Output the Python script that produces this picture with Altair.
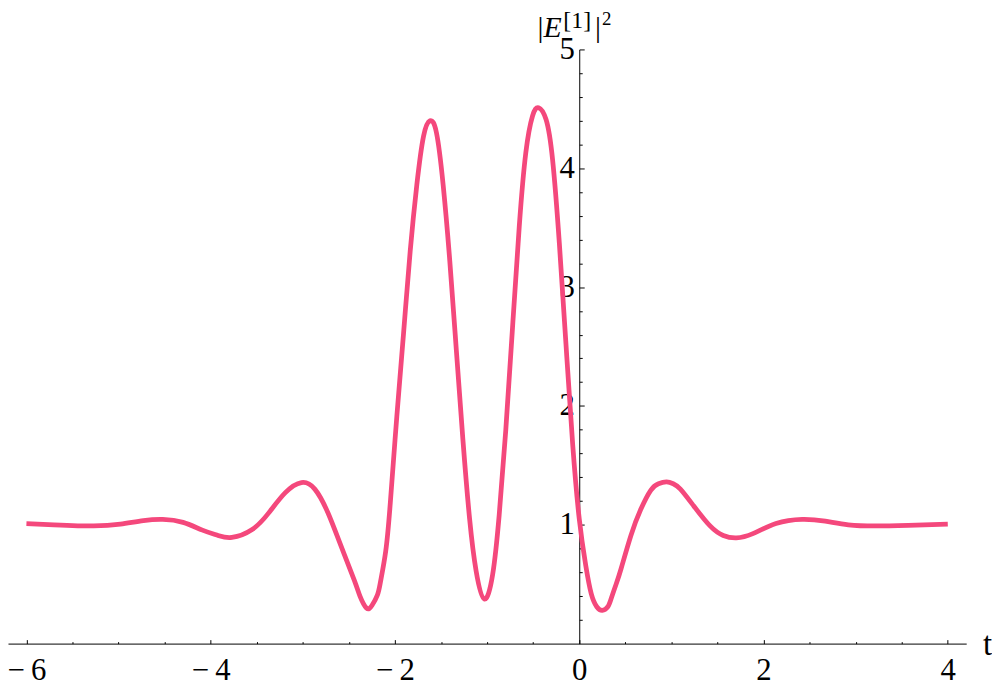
import altair as alt
import pandas as pd

# ---- data ----
T = [-6.0, -5.7, -5.27, -4.98, -4.73, -4.52, -4.30, -4.09, -3.92, -3.77,
     -3.55, -3.37, -3.19, -3.015, -2.87, -2.73, -2.59, -2.44, -2.38, -2.31,
     -2.25, -2.19, -2.157, -2.10, -2.05, -1.98, -1.907, -1.835, -1.763, -1.69,
     -1.62, -1.55, -1.477, -1.405, -1.334, -1.263, -1.19, -1.119, -1.03, -0.94,
     -0.869, -0.797, -0.724, -0.651, -0.58, -0.507, -0.441, -0.36, -0.289, -0.216,
     -0.144, -0.071, 0.0, 0.07, 0.13, 0.19, 0.25, 0.31, 0.347, 0.40,
     0.454, 0.561, 0.668, 0.776, 0.86, 0.948, 1.02, 1.098, 1.241, 1.42,
     1.563, 1.706, 1.885, 2.135, 2.42, 2.67, 2.92, 3.21, 3.57, 4.0]
E2 = [1.01, 1.0, 0.99, 1.005, 1.035, 1.045, 1.02, 0.955, 0.91, 0.893,
      0.96, 1.10, 1.27, 1.355, 1.30, 1.105, 0.83, 0.53, 0.40, 0.30,
      0.32, 0.41, 0.52, 0.78, 1.19, 1.91, 2.61, 3.30, 3.86, 4.27,
      4.40, 4.30, 3.86, 3.22, 2.47, 1.72, 1.05, 0.61, 0.375, 0.58,
      1.08, 1.80, 2.66, 3.51, 4.13, 4.44, 4.51, 4.41, 4.07, 3.37,
      2.52, 1.675, 1.05, 0.66, 0.42, 0.31, 0.28, 0.31, 0.38, 0.50,
      0.63, 0.91, 1.13, 1.29, 1.345, 1.36, 1.345, 1.30, 1.16, 0.99,
      0.91, 0.89, 0.925, 1.01, 1.045, 1.03, 1.0, 0.99, 0.995, 1.005]

X_MAJOR = [-6, -4, -2, 0, 2, 4]
X_MINOR = [-5.5, -5, -4.5, -3.5, -3, -2.5, -1.5, -1, -0.5, 0.5, 1, 1.5, 2.5, 3, 3.5]
Y_MAJOR = [1, 2, 3, 4, 5]
Y_MINOR = [0.2, 0.4, 0.6, 0.8, 1.2, 1.4, 1.6, 1.8, 2.2, 2.4, 2.6, 2.8,
           3.2, 3.4, 3.6, 3.8, 4.2, 4.4, 4.6, 4.8]
X_DOMAIN = [-6.2, 4.2]
Y_DOMAIN = [0, 5]
X_TITLE = "t"
Y_TITLE_PARTS = ["|", "E", "[1]", "|", "2"]

# ---- layout ----
W, H = 966, 599
X0 = (0 - X_DOMAIN[0]) / (X_DOMAIN[1] - X_DOMAIN[0]) * W
FONT = "Liberation Serif"
LINE_COLOR = "#F4487C"
LABEL_SIZE = 31

df = pd.DataFrame({"t": T, "v": E2})
xs = alt.Scale(domain=X_DOMAIN, nice=False, zero=False)
ys = alt.Scale(domain=Y_DOMAIN, nice=False, zero=False)

base = alt.Chart(df)

line = base.mark_line(color=LINE_COLOR, strokeWidth=4.8, interpolate="natural").encode(
    x=alt.X("t:Q", scale=xs, axis=alt.Axis(
        orient="bottom", values=X_MAJOR, ticks=False, tickSize=0, grid=False,
        domain=True, domainColor="black", domainWidth=1,
        labelFont=FONT, labelFontSize=LABEL_SIZE, labelColor="black", labelPadding=12,
        labelFlush=False, labelOverlap=False,
        labelExpr="datum.value < 0 ? '\u2212\u2009' + abs(datum.value) : datum.label",
        title=X_TITLE, titleFont=FONT, titleFontSize=33, titleFontWeight="normal",
        titleColor="black", titleX=987, titleY=11, titleAlign="center",
        titleBaseline="alphabetic")),
    y=alt.Y("v:Q", scale=ys, axis=alt.Axis(
        orient="left", offset=-X0, values=Y_MAJOR, ticks=False, tickSize=0, grid=False,
        domain=True, domainColor="black", domainWidth=1,
        labelFont=FONT, labelFontSize=LABEL_SIZE, labelColor="black", labelPadding=5,
        labelAlign="right", labelBaseline="middle", labelFlush=False, labelOverlap=False,
        title=None)),
)


def tick_layer(channel, values, size):
    if channel == "x":
        ax = alt.Axis(orient="top", offset=-H, values=values, ticks=True, tickSize=size,
                      tickColor="black", tickWidth=1, labels=False, domain=False,
                      grid=False, title=None)
        return base.mark_point(opacity=0).encode(
            x=alt.X("t:Q", scale=xs, axis=ax),
            y=alt.Y("v:Q", scale=ys, axis=None))
    ax = alt.Axis(orient="right", offset=-(W - X0), values=values, ticks=True, tickSize=size,
                  tickColor="black", tickWidth=1, labels=False, domain=False,
                  grid=False, title=None)
    return base.mark_point(opacity=0).encode(
        x=alt.X("t:Q", scale=xs, axis=None),
        y=alt.Y("v:Q", scale=ys, axis=ax))


def text_part(s, dx, y, size, italic=False):
    return alt.Chart(pd.DataFrame({"s": [s]})).mark_text(
        font=FONT, fontSize=size, fontStyle="italic" if italic else "normal",
        align="left", baseline="alphabetic", color="black"
    ).encode(x=alt.value(X0 + dx), y=alt.value(y), text="s:N")


title_layers = [
    text_part(Y_TITLE_PARTS[0], -42, -13, 30),
    text_part(Y_TITLE_PARTS[1], -36, -13, 30, italic=True),
    text_part(Y_TITLE_PARTS[2], -16, -22, 24),
    text_part(Y_TITLE_PARTS[3], 16, -13, 30),
    text_part(Y_TITLE_PARTS[4], 23, -25, 19),
]

chart = alt.layer(
    line,
    tick_layer("x", X_MAJOR, 4),
    tick_layer("x", X_MINOR, 2),
    tick_layer("y", Y_MAJOR, 5),
    tick_layer("y", Y_MINOR, 3),
    *title_layers,
).resolve_axis(x="independent", y="independent").properties(
    width=W, height=H,
    padding={"left": 0, "top": 39, "right": 26, "bottom": 43},
    autosize=alt.AutoSizeParams(type="none"),
).configure(background="white").configure_view(stroke=None)

chart.save("out.html", embed_options={"renderer": "svg", "actions": False})
